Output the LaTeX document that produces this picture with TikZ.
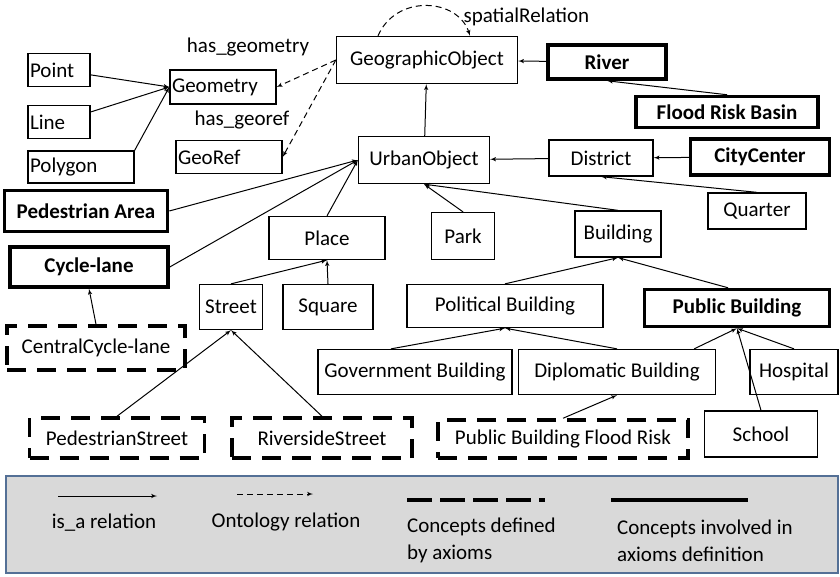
\documentclass[tikz,border=0pt]{standalone}
\usepackage{fontspec}
\setmainfont{Carlito}
\usetikzlibrary{arrows}
\usetikzlibrary{positioning}
\definecolor{legendfill}{RGB}{217,217,217}
\definecolor{legendframe}{RGB}{84,112,150}

\begin{document}
\begin{tikzpicture}[x=1pt,y=-1pt]

\tikzstyle{concept}=[draw, line width=1.3pt, inner sep=2pt, font=\fontsize{21}{25}\selectfont]
\tikzstyle{leftconcept}=[concept, align=left]
\tikzstyle{involved}=[concept, line width=3.5pt, font=\fontsize{21}{25}\selectfont\bfseries]
\tikzstyle{defined}=[concept, line width=3.5pt, dash pattern=on 19pt off 11pt]
\tikzstyle{line}=[draw, line width=1pt, -latex']
\tikzstyle{relation}=[draw, line width=1pt, dash pattern=on 6pt off 4pt, -latex']
\tikzstyle{relname}=[font=\fontsize{21}{25}\selectfont]
\tikzstyle{legendtext}=[font=\fontsize{21}{27}\selectfont, align=left, inner sep=0pt]

\useasboundingbox (0,0) rectangle (840,576);

\node[concept, minimum width=181pt, minimum height=47pt] (geographic_object) at (427,60) {GeographicObject};
\node[involved, minimum width=118pt, minimum height=34pt] (river) at (607,62) {River};
\node[involved, minimum width=182pt, minimum height=31pt] (flood_risk_basin) at (727,112) {Flood Risk Basin};

\node[leftconcept, text width=102pt, minimum height=34pt] (geometry) at (223,87) {Geometry};
\node[leftconcept, text width=58pt, minimum height=33pt] (point) at (59,70) {Point};
\node[leftconcept, text width=58pt, minimum height=33pt] (line_shape) at (59,122) {Line};
\node[leftconcept, text width=102pt, minimum height=32pt] (polygon) at (81,167) {Polygon};
\node[leftconcept, text width=102pt, minimum height=33pt] (georef) at (229,157) {GeoRef};

\node[concept, minimum width=131pt, minimum height=47pt] (urban_object) at (424,160) {UrbanObject};
\node[concept, minimum width=104pt, minimum height=36pt] (district) at (601,158) {District};
\node[involved, minimum width=139pt, minimum height=36pt] (city_center) at (760,157) {CityCenter};
\node[concept, minimum width=98pt, minimum height=36pt] (quarter) at (757,211) {Quarter};

\node[involved, minimum width=163pt, minimum height=41pt] (pedestrian_area) at (86,211) {Pedestrian Area};
\node[involved, minimum width=158pt, minimum height=40pt] (cycle_lane) at (89,267) {Cycle-lane};
\node[defined, minimum width=178pt, minimum height=44pt] (central_cycle_lane) at (96,348) {CentralCycle-lane};

\node[concept, minimum width=116pt, minimum height=43pt] (place) at (327,238) {Place};
\node[concept, minimum width=63pt, minimum height=47pt] (park) at (463,236) {Park};
\node[concept, minimum width=86pt, minimum height=46pt] (building) at (618,234) {Building};
\node[concept, minimum width=63pt, minimum height=45pt] (street) at (231,307) {Street};
\node[concept, minimum width=90pt, minimum height=45pt] (square) at (328,307) {Square};

\node[concept, minimum width=196pt, minimum height=43pt] (political_building) at (505,306) {Political Building};
\node[involved, minimum width=185pt, minimum height=37pt] (public_building) at (737,308) {Public Building};
\node[concept, minimum width=194pt, minimum height=45pt] (government_building) at (415,372) {Government Building};
\node[concept, minimum width=197pt, minimum height=45pt] (diplomatic_building) at (617,372) {Diplomatic Building};
\node[concept, minimum width=88pt, minimum height=45pt] (hospital) at (794,372) {Hospital};
\node[concept, minimum width=113pt, minimum height=46pt] (school) at (761,434) {School};

\node[defined, minimum width=175pt, minimum height=40pt] (pedestrian_street) at (117,438) {PedestrianStreet};
\node[defined, minimum width=180pt, minimum height=40pt] (riverside_street) at (322,438) {RiversideStreet};
\node[defined, minimum width=250pt, minimum height=38pt] (public_building_flood_risk) at (563,439) {Public Building Flood Risk};

% ontology relations
\node[relname] (has_geometry) at (248,47) {has\_geometry};
\node[relname] (has_georef) at (242,120) {has\_georef};
\node[relname, anchor=west] (spatial_relation) at (460,17) {spatialRelation};
\path[relation] (geographic_object.west) -- (geometry.east);
\path[relation] (geographic_object.west) -- (georef.east);
\path[relation] ([xshift=-49pt]geographic_object.north) .. controls +(18,-42) and +(-12,-38) .. ([xshift=43pt]geographic_object.north);

% is_a relations
\path[line] (point) -- (geometry.west);
\path[line] (line_shape) -- (geometry.west);
\path[line] (polygon.north east) -- (geometry.west);

\path[line] (river) -- (geographic_object);
\path[line] (flood_risk_basin.north) -- (river.south);
\path[line] (urban_object) -- (geographic_object);
\path[line] (district) -- (urban_object);
\path[line] (city_center) -- (district);
\path[line] (quarter.north) -- (district.south);

\path[line] (pedestrian_area.east) -- (urban_object.west);
\path[line] (cycle_lane.east) -- (urban_object.west);
\path[line] (place.north) -- (urban_object.west);
\path[line] (park.north) -- (urban_object.south);
\path[line] (building.north) -- (urban_object.south);

\path[line] (street.north) -- (place.south);
\path[line] (square.north) -- (place.south);
\path[line] (central_cycle_lane.north) -- (cycle_lane.south);
\path[line] (pedestrian_street.north) -- (street.south);
\path[line] (riverside_street.north) -- (street.south);

\path[line] (political_building.north) -- (building.south);
\path[line] ([xshift=-9pt]public_building.north) -- (building.south);
\path[line] ([xshift=-24pt]government_building.north) -- (political_building.south);
\path[line] (diplomatic_building.north) -- (political_building.south);
\path[line] ([xshift=-22pt]diplomatic_building.north east) -- (public_building.south);
\path[line] (hospital.north) -- (public_building.south);
\path[line] (school.north) -- (public_building.south);
\path[line] (public_building_flood_risk.north) -- (diplomatic_building.south);

% legend
\draw[legendframe, fill=legendfill, line width=1.5pt] (6,476) rectangle (838,573);
\coordinate (isa_start) at (58,496);
\coordinate (isa_end) at (157,496);
\coordinate (onto_start) at (237,494);
\coordinate (onto_end) at (313,494);
\coordinate (defined_start) at (407,500);
\coordinate (defined_end) at (545,500);
\coordinate (involved_start) at (611,500);
\coordinate (involved_end) at (748,500);
\path[line] (isa_start) -- (isa_end);
\path[relation] (onto_start) -- (onto_end);
\draw[line width=4pt, dash pattern=on 25pt off 8pt] (defined_start) -- (defined_end);
\draw[line width=4pt] (involved_start) -- (involved_end);
\node[legendtext] (isa_text) at (104,523) {is\_a relation};
\node[legendtext] (onto_text) at (286,522) {Ontology relation};
\node[legendtext, anchor=north west] (defined_text) at (407,518) {Concepts defined\\by axioms};
\node[legendtext, anchor=north west] (involved_text) at (617,520) {Concepts involved in\\axioms definition};

\end{tikzpicture}
\end{document}
